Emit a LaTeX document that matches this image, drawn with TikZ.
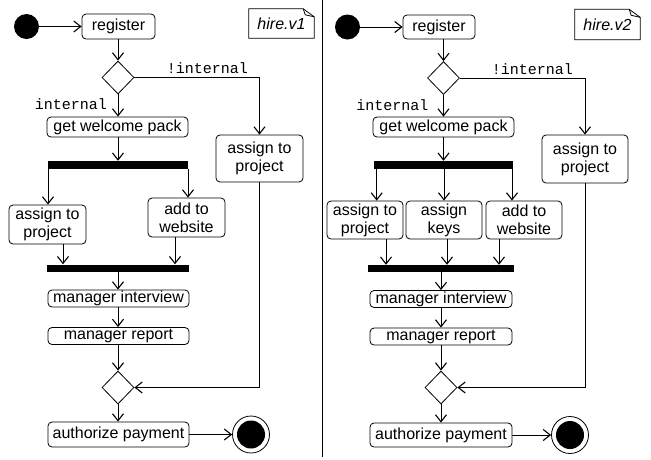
\documentclass[tikz,border=0pt]{standalone}
\usepackage{fontspec}
\setmainfont{Liberation Sans}
\setmonofont{Liberation Mono}
\usetikzlibrary{shapes.geometric,arrows.meta}
\tikzset{
  every node/.style={font=\fontsize{16pt}{18pt}\selectfont},
  act/.style={draw, rounded corners=4pt, line width=0.8pt, inner sep=0pt, align=center},
  decis/.style={draw, diamond, shape aspect=1, minimum width=32pt, minimum height=33pt, inner sep=0pt, line width=0.8pt},
  bar/.style={fill=black, inner sep=0pt},
  startnode/.style={circle, fill=black, minimum size=25pt, inner sep=0pt},
  endouter/.style={circle, draw, line width=0.8pt, minimum size=37pt, inner sep=0pt},
  endinner/.style={circle, fill=black, minimum size=28pt, inner sep=0pt},
  guard/.style={font=\fontsize{15pt}{18pt}\selectfont\ttfamily, inner sep=0pt},
  notebox/.style={inner sep=0pt, font=\fontsize{16pt}{18pt}\selectfont\itshape},
  flow/.style={line width=0.8pt, -{Straight Barb[length=7pt,width=11pt,line width=1.1pt]}},
  plain/.style={line width=0.8pt}
}
\begin{document}
\begin{tikzpicture}[x=1pt,y=-1pt]
\useasboundingbox (0,0) rectangle (651,459);
% separator
\draw[line width=1pt] (322,0) -- (322,457);

%% ---------- left diagram ----------
\node[startnode] (s1) at (26.5,26.5) {};
\node[act, minimum width=73pt, minimum height=25pt] (reg1) at (118.5,26.5) {register};
\node[decis] (dec1) at (118,77.5) {};
\node[guard] (ni1) at (207.5,68) {!internal};
\node[guard] (in1) at (71,104) {internal};
\node[act, minimum width=141pt, minimum height=20pt] (gwp1) at (117.5,127) {get welcome pack};
\node[bar, minimum width=140pt, minimum height=8pt] (fork1) at (118,165) {};
\node[act, minimum width=77pt, minimum height=39pt] (prj1l) at (47.5,224.5) {assign to\\project};
\node[act, minimum width=77pt, minimum height=39pt] (web1) at (186.5,217.5) {add to\\website};
\node[bar, minimum width=142pt, minimum height=7pt] (join1) at (118,268) {};
\node[act, minimum width=141pt, minimum height=17pt] (mi1) at (118.5,298.5) {manager interview};
\node[act, minimum width=141pt, minimum height=17pt] (mr1) at (118.5,336) {manager report};
\node[decis] (mg1) at (118,387.5) {};
\node[act, minimum width=141pt, minimum height=25pt] (au1) at (118.5,434.5) {authorize payment};
\node[endouter] (e1) at (251,434.5) {};
\node[endinner] (e1i) at (251,434.5) {};
\node[act, minimum width=87pt, minimum height=47pt] (prj1r) at (259.5,158.5) {assign to\\project};
\node[notebox, minimum width=65pt, minimum height=29pt] (n1) at (281.5,23.5) {hire.v1};
\draw[plain] (n1.south west) -- (n1.north west) -- ([xshift=-11pt]n1.north east) -- ([yshift=-8pt]n1.north east) -- (n1.south east) -- cycle;
\draw[plain] ([xshift=-11pt]n1.north east) -- ([xshift=-9pt,yshift=-6pt]n1.north east) -- ([yshift=-8pt]n1.north east);

\draw[flow] (s1) -- (reg1);
\draw[flow] (reg1.south -| dec1.north) -- (dec1.north);
\draw[flow] (dec1.east) -| (prj1r.north);
\draw[flow] (dec1.south) -- (gwp1.north -| dec1.south);
\draw[flow] (gwp1.south -| dec1.south) -- (fork1.north -| dec1.south);
\draw[flow] ([xshift=0.5pt]prj1l.north |- fork1.south) -- ([xshift=0.5pt]prj1l.north);
\draw[flow] ([xshift=1.5pt]web1.north |- fork1.south) -- ([xshift=1.5pt]web1.north);
\draw[flow] ([xshift=15.5pt]prj1l.south) -- ([xshift=15.5pt]prj1l.south |- join1.north);
\draw[flow] ([xshift=-11.5pt]web1.south) -- ([xshift=-11.5pt]web1.south |- join1.north);
\draw[flow] (join1.south) -- (mi1.north -| join1.south);
\draw[flow] (mi1.south -| mg1.north) -- (mr1.north -| mg1.north);
\draw[flow] (mr1.south -| mg1.north) -- (mg1.north);
\draw[flow] (prj1r.south) |- (mg1.east);
\draw[flow] (mg1.south) -- (au1.north -| mg1.south);
\draw[flow] (au1.east) -- (e1.west);

%% ---------- right diagram ----------
\node[startnode] (s2) at (347.5,27) {};
\node[act, minimum width=72pt, minimum height=24pt] (reg2) at (439,27) {register};
\node[decis] (dec2) at (443.5,78) {};
\node[guard] (ni2) at (532.5,69) {!internal};
\node[guard] (in2) at (392.5,105) {internal};
\node[act, minimum width=141pt, minimum height=20pt] (gwp2) at (443.5,127) {get welcome pack};
\node[bar, minimum width=139pt, minimum height=8pt] (fork2) at (443.5,165) {};
\node[act, minimum width=76pt, minimum height=38pt] (prj2l) at (365,220) {assign to\\project};
\node[act, minimum width=76pt, minimum height=38pt] (key2) at (444,220) {assign\\keys};
\node[act, minimum width=76pt, minimum height=38pt] (web2) at (524,220) {add to\\website};
\node[bar, minimum width=146pt, minimum height=7pt] (join2) at (441,268.5) {};
\node[act, minimum width=142pt, minimum height=17pt] (mi2) at (441,299) {manager interview};
\node[act, minimum width=142pt, minimum height=17pt] (mr2) at (441,336.5) {manager report};
\node[decis] (mg2) at (441,387.5) {};
\node[act, minimum width=142pt, minimum height=24pt] (au2) at (441,435) {authorize payment};
\node[endouter] (e2) at (570,435) {};
\node[endinner] (e2i) at (570,435) {};
\node[act, minimum width=86pt, minimum height=48pt] (prj2r) at (585,159) {assign to\\project};
\node[notebox, minimum width=65pt, minimum height=30pt] (n2) at (607.5,24.5) {hire.v2};
\draw[plain] (n2.south west) -- (n2.north west) -- ([xshift=-11pt]n2.north east) -- ([yshift=-8pt]n2.north east) -- (n2.south east) -- cycle;
\draw[plain] ([xshift=-11pt]n2.north east) -- ([xshift=-9pt,yshift=-6pt]n2.north east) -- ([yshift=-8pt]n2.north east);

\draw[flow] (s2) -- (reg2);
\draw[flow] (reg2.south -| dec2.north) -- (dec2.north);
\draw[flow] (dec2.east) -| (prj2r.north);
\draw[flow] (dec2.south) -- (gwp2.north -| dec2.south);
\draw[flow] (gwp2.south -| dec2.south) -- (fork2.north -| dec2.south);
\draw[flow] ([xshift=11.7pt]prj2l.north |- fork2.south) -- ([xshift=11.7pt]prj2l.north);
\draw[flow] (key2.north |- fork2.south) -- (key2.north);
\draw[flow] ([xshift=-12pt]web2.north |- fork2.south) -- ([xshift=-12pt]web2.north);
\draw[flow] ([xshift=21pt]prj2l.south) -- ([xshift=21pt]prj2l.south |- join2.north);
\draw[flow] ([xshift=3pt]key2.south) -- ([xshift=3pt]key2.south |- join2.north);
\draw[flow] ([xshift=-25pt]web2.south) -- ([xshift=-25pt]web2.south |- join2.north);
\draw[flow] (join2.south) -- (mi2.north -| join2.south);
\draw[flow] (mi2.south -| mg2.north) -- (mr2.north -| mg2.north);
\draw[flow] (mr2.south -| mg2.north) -- (mg2.north);
\draw[flow] (prj2r.south) |- (mg2.east);
\draw[flow] (mg2.south) -- (au2.north -| mg2.south);
\draw[flow] (au2.east) -- (e2.west);
\end{tikzpicture}
\end{document}
